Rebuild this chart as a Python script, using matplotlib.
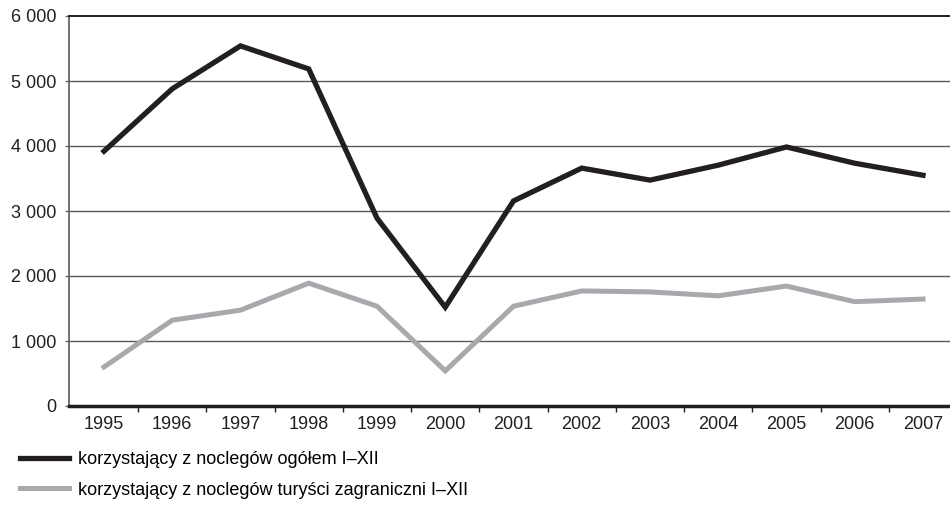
import matplotlib
matplotlib.use("Agg")
import matplotlib.pyplot as plt
from matplotlib.ticker import FuncFormatter

plt.rcParams["font.family"] = ["Liberation Sans", "DejaVu Sans"]

years = ["1995", "1996", "1997", "1998", "1999", "2000", "2001",
         "2002", "2003", "2004", "2005", "2006", "2007"]
ogolem = [3920, 4880, 5540, 5185, 2890, 1520, 3155,
          3660, 3475, 3705, 3985, 3735, 3550]
zagraniczni = [600, 1320, 1475, 1890, 1535, 540, 1535,
               1770, 1755, 1695, 1845, 1605, 1645]
yticks = [0, 1000, 2000, 3000, 4000, 5000, 6000]
labels = ["korzystający z noclegów ogółem I–XII",
          "korzystający z noclegów turyści zagraniczni I–XII"]

fig = plt.figure(figsize=(9.5, 5.08), dpi=100)
ax = fig.add_axes([69 / 950, 1 - 406 / 508, 1 - 69 / 950, (406 - 16) / 508])

x = range(len(years))
l1, = ax.plot(x, ogolem, color="#231f20", lw=3.8, solid_joinstyle="miter", zorder=3)
l2, = ax.plot(x, zagraniczni, color="#a7a9ac", lw=3.6, solid_joinstyle="miter", zorder=3)

ax.set_ylim(0, 6000)
ax.set_xlim(-0.513, 12.396)
ax.set_yticks(yticks)
# thousands separated by a space, Polish style
ax.yaxis.set_major_formatter(FuncFormatter(lambda v, p: f"{int(v):,}".replace(",", " ")))
ax.set_xticks(list(x))
ax.set_xticklabels(years)
ax.set_xticks([i + 0.5 for i in range(len(years) - 1)], minor=True)

ax.tick_params(axis="x", which="major", length=0, pad=7, labelsize=13, colors="#231f20")
ax.tick_params(axis="x", which="minor", length=4, width=1, color="#231f20", direction="out")
ax.tick_params(axis="y", length=3, width=1, color="#6d6e71", pad=6, labelsize=13,
               labelcolor="#231f20")

for v in yticks[1:-1]:
    ax.axhline(v, color="#58595b", lw=1, zorder=1)

ax.spines["right"].set_visible(False)
ax.spines["top"].set_color("#231f20")
ax.spines["top"].set_linewidth(1.4)
ax.spines["left"].set_color("#58595b")
ax.spines["left"].set_linewidth(1.2)
ax.spines["bottom"].set_color("#231f20")
ax.spines["bottom"].set_linewidth(2.5)

fig.legend([l1, l2], labels, loc="upper left", bbox_to_anchor=(0.021, 0.112),
           frameon=False, fontsize=13, handlelength=2.7, handletextpad=0.5,
           labelspacing=0.75, borderpad=0, borderaxespad=0)

fig.savefig("out.png", dpi=100)
